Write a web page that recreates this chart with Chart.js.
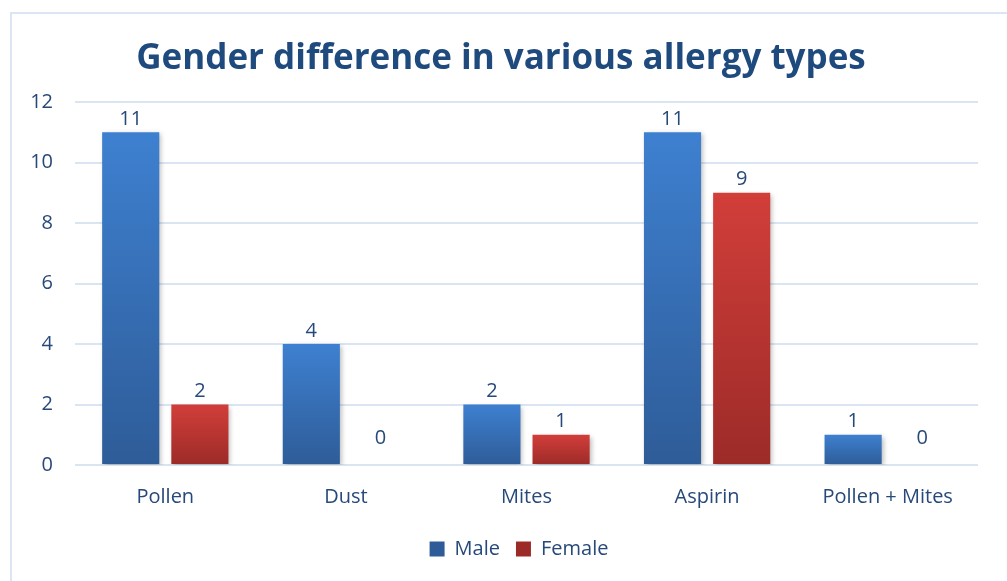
<!DOCTYPE html>
<html>
<head>
<meta charset="utf-8">
<script src="https://cdn.jsdelivr.net/npm/chart.js@4/dist/chart.umd.min.js"></script>
<style>
  html, body { margin: 0; padding: 0; background: #fff; }
  #wrap { position: relative; width: 1007px; height: 581px; overflow: hidden; }
  #frame { position: absolute; left: 10px; top: 12px; width: 1020px; height: 600px; border: 2px solid #dae6f4; box-sizing: border-box; }
  #chart { position: absolute; left: 0; top: 0; }
</style>
</head>
<body>
<div id="wrap">
  <div id="frame"></div>
  <canvas id="chart" width="1007" height="581"></canvas>
</div>
<script>
const categories = ['Pollen', 'Dust', 'Mites', 'Aspirin', 'Pollen + Mites'];
const maleValues = [11, 4, 2, 11, 1];
const femaleValues = [2, 0, 1, 9, 0];
const yTicks = [0, 2, 4, 6, 8, 10, 12];

const textColor = '#27497a';
const fontFamily = "'Open Sans', 'Noto Sans', sans-serif";

// vertical gradient per bar, like the Excel fill
function barGradient(top, bottom, solid) {
  return ctx => {
    if (ctx.type !== 'data') return solid;
    const chart = ctx.chart;
    const y = chart.scales.y;
    if (!y || !chart.chartArea) return solid;
    const v = ctx.raw;
    const y0 = y.getPixelForValue(v);
    const y1 = y.getPixelForValue(0);
    if (!isFinite(y0) || !isFinite(y1) || y0 === y1) return solid;
    const g = chart.ctx.createLinearGradient(0, y0, 0, y1);
    g.addColorStop(0, top);
    g.addColorStop(1, bottom);
    return g;
  };
}

const barShadow = {
  id: 'barShadow',
  beforeDatasetsDraw(chart) {
    const c = chart.ctx;
    c.save();
    c.shadowColor = 'rgba(0,0,0,0.28)';
    c.shadowBlur = 5;
    c.shadowOffsetX = 2;
    c.shadowOffsetY = 2;
  },
  afterDatasetsDraw(chart) {
    chart.ctx.restore();
  }
};

// nudge title and legend sideways, Excel centres them a bit right
const shiftBoxes = {
  id: 'shiftBoxes',
  afterLayout(chart) {
    if (chart.titleBlock) { chart.titleBlock.left += 7; chart.titleBlock.right += 7; }
    if (chart.legend) {
      chart.legend.left += 25; chart.legend.right += 25;
      if (chart.legend.adjustHitBoxes) chart.legend.adjustHitBoxes();
    }
  }
};

const valueLabels = {
  id: 'valueLabels',
  afterDatasetsDraw(chart) {
    const c = chart.ctx;
    c.save();
    c.font = '20px ' + fontFamily;
    c.fillStyle = textColor;
    c.textAlign = 'center';
    c.textBaseline = 'middle';
    chart.data.datasets.forEach((ds, i) => {
      chart.getDatasetMeta(i).data.forEach((bar, j) => {
        const v = ds.data[j];
        const off = v === 0 ? 27 : 13;
        c.fillText(String(v), bar.x, bar.y - off);
      });
    });
    c.restore();
  }
};

new Chart(document.getElementById('chart'), {
  type: 'bar',
  data: {
    labels: categories,
    datasets: [{
      label: 'Male',
      data: maleValues,
      backgroundColor: barGradient('#3e80d0', '#2e5c98', '#3a74bf'),
      categoryPercentage: 0.766,
      barPercentage: 0.826
    }, {
      label: 'Female',
      data: femaleValues,
      backgroundColor: barGradient('#d23e3a', '#9c2b28', '#c53835'),
      categoryPercentage: 0.766,
      barPercentage: 0.826
    }]
  },
  options: {
    responsive: false,
    animation: false,
    layout: { padding: { left: 10, right: 29, top: 14, bottom: 12 } },
    plugins: {
      title: {
        display: true,
        text: 'Gender difference in various allergy types',
        color: '#1f4a7e',
        font: { family: fontFamily, size: 35, weight: 'bold' },
        padding: { top: 24, bottom: 22 }
      },
      legend: {
        position: 'bottom',
        labels: {
          color: textColor,
          font: { family: fontFamily, size: 20 },
          boxWidth: 15,
          boxHeight: 15,
          padding: 16
        }
      },
      tooltip: { enabled: false }
    },
    scales: {
      x: {
        grid: { display: false },
        border: { display: false },
        afterFit: s => { s.height = 58; },
        ticks: { color: textColor, font: { family: fontFamily, size: 20 }, padding: 12 }
      },
      y: {
        min: 0,
        max: 12,
        afterBuildTicks: s => { s.ticks = yTicks.map(v => ({ value: v })); },
        afterFit: s => { s.width = 65; },
        grid: { color: '#d9e5f3', lineWidth: 2, drawTicks: false },
        border: { display: false },
        ticks: { color: textColor, font: { family: fontFamily, size: 20 }, padding: 22 }
      }
    }
  },
  plugins: [barShadow, shiftBoxes, valueLabels]
});
</script>
</body>
</html>
